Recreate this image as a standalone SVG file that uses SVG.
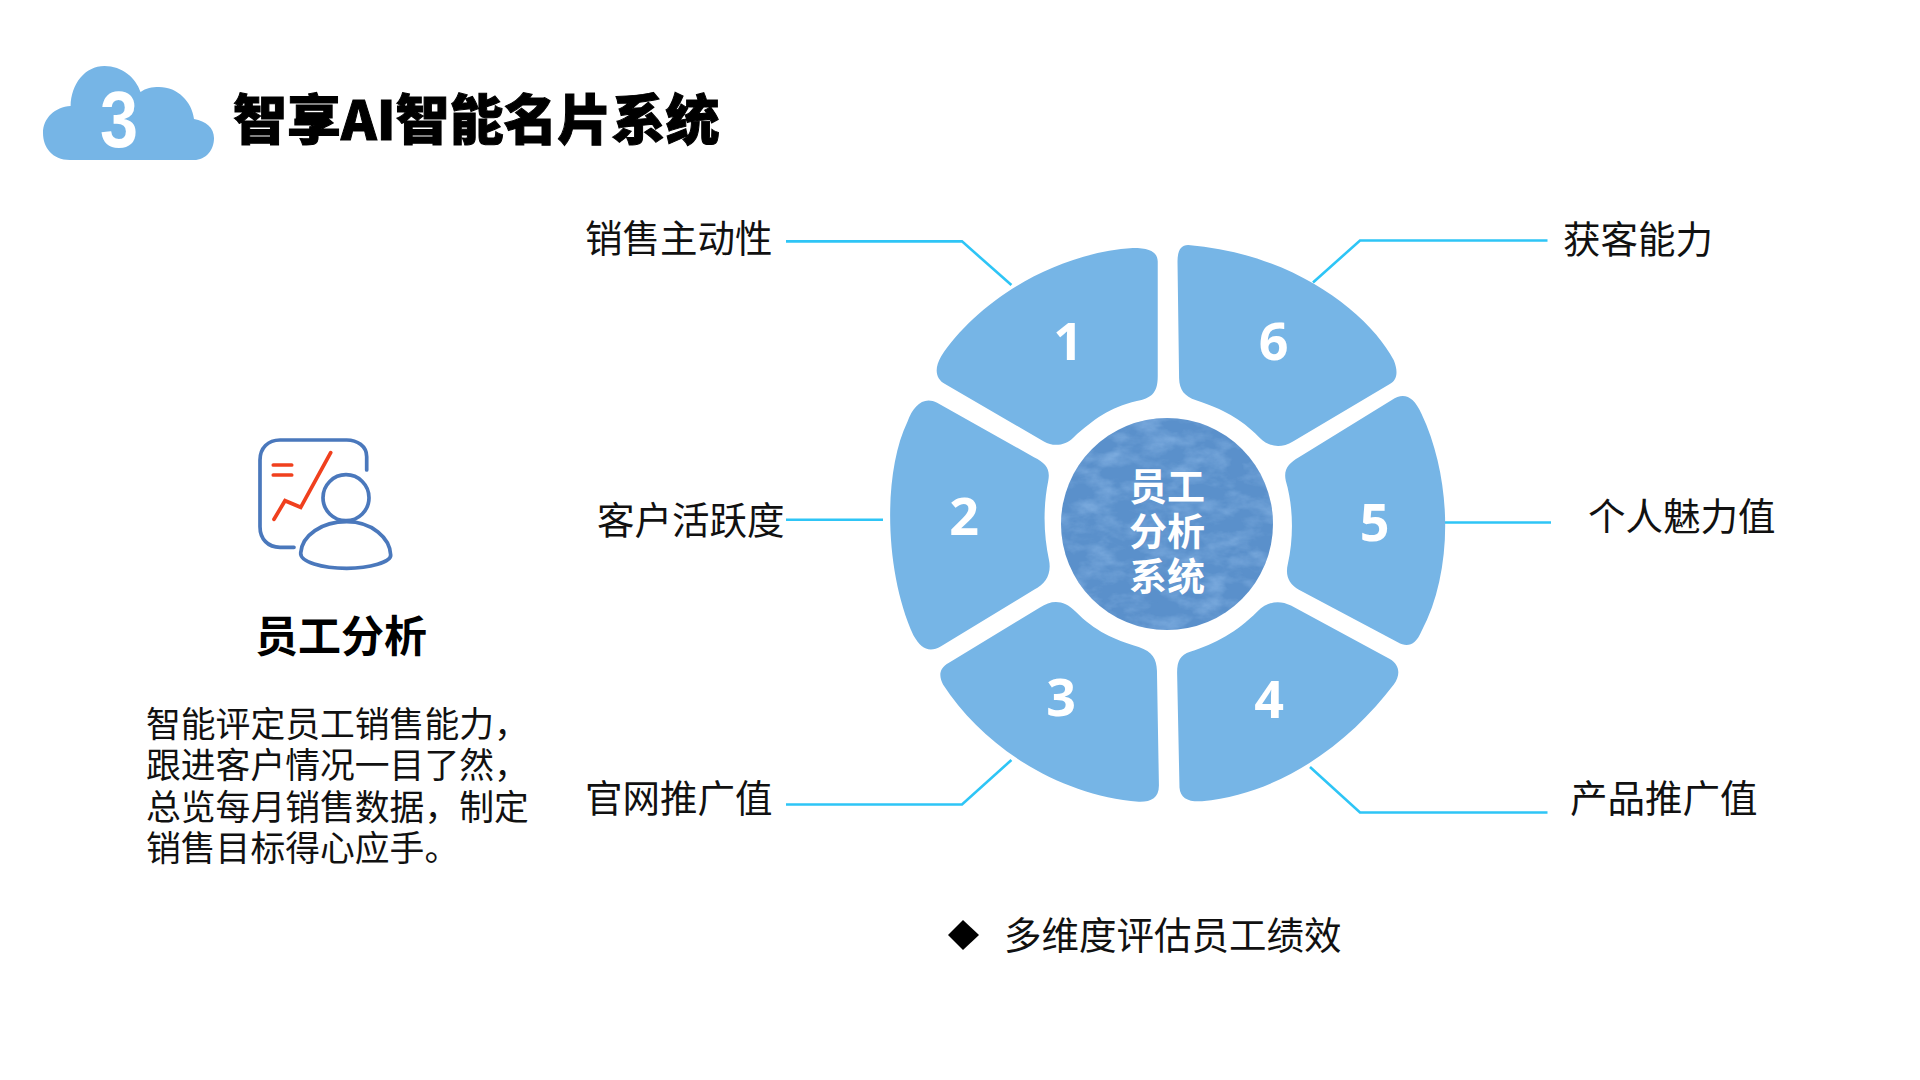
<svg xmlns="http://www.w3.org/2000/svg" width="1920" height="1080" viewBox="0 0 1920 1080">
<style>
text{font-family:"Noto Sans CJK SC","Noto Sans",sans-serif;fill:#111}
.lab{font-size:37.5px}
.para{font-size:34.8px}
.num{font-family:"Open Sans","Noto Sans",sans-serif;font-weight:700;font-size:52px;fill:#fff;text-anchor:middle}
.ctr{font-size:38px;font-weight:700;fill:#fff;text-anchor:middle}
.seg{fill:#76B5E6}
.conn{fill:none;stroke:#2EC5F6;stroke-width:2.6}
.ib{fill:none;stroke:#4A78BC;stroke-width:3.7;stroke-linecap:round}
.ir{fill:none;stroke:#F0401E;stroke-width:3.7;stroke-linecap:round;stroke-linejoin:miter}
</style>
<defs>
<filter id="marble" x="0" y="0" width="100%" height="100%" color-interpolation-filters="sRGB">
<feTurbulence type="fractalNoise" baseFrequency="0.035 0.06" numOctaves="4" seed="7" result="n"/>
<feColorMatrix in="n" type="matrix" values="0 0 0 0 0.62  0 0 0 0 0.78  0 0 0 0 0.95  0.7 -0.7 0 0 0.1" result="c"/>
<feComposite in="c" in2="SourceAlpha" operator="in" result="t"/>
<feMerge><feMergeNode in="SourceGraphic"/><feMergeNode in="t"/></feMerge>
</filter>
</defs>
<rect width="1920" height="1080" fill="#fff"/>

<g id="header">
<path d="M70 160C52 160 43 147 43 133C43 118 55 107 70.6 106C71 84 85 66 104.5 66C122 66 136 78 140.5 92C146 88 152 87 159 87C178 87 192 102 194 119C206 121 214 128 214 138C214 150 206 160 194 160Z" fill="#76B5E6"/>
<text x="100" y="147" font-size="79" font-weight="700" style="font-family:'Liberation Sans',sans-serif;fill:#fff" textLength="38" lengthAdjust="spacingAndGlyphs">3</text>
<text x="233" y="140" font-size="54" font-weight="900" style="fill:#000;stroke:#000;stroke-width:1">智享AI智能名片系统</text>
</g>

<g id="analysis">
<path class="ib" d="M366.7 470V456.7C366.7 446 357 440 346.7 440H280C268 440 260 448 260 460V526.7C260 539 268 547.3 280 547.3H294"/>
<circle class="ib" cx="346" cy="497.7" r="23"/>
<path class="ib" d="M300.7 553C302 535 322 521.7 346.7 521.7C372 521.7 390 538 390.7 555C391 562 370 568.3 346.7 568.3C322 568.3 300 562 300.7 553Z"/>
<path class="ir" d="M273.3 465H291.7M273.3 475H291.7M274 519.3L285 500.7L300.7 507.3L330.7 452.7"/>
<text x="341" y="652" font-size="43" font-weight="700" text-anchor="middle" style="fill:#000">员工分析</text>
<text class="para" x="146" y="737">智能评定员工销售能力，</text>
<text class="para" x="146" y="778">跟进客户情况一目了然，</text>
<text class="para" x="146" y="820">总览每月销售数据，制定</text>
<text class="para" x="146" y="861">销售目标得心应手。</text>
</g>

<g id="connectors">
<path class="conn" d="M786 241.4H962L1011.4 285"/>
<path class="conn" d="M786 519.7H883"/>
<path class="conn" d="M786 804.5H962L1011.4 760"/>
<path class="conn" d="M1547.5 240.5H1360L1313 282.5"/>
<path class="conn" d="M1551 522.5H1443"/>
<path class="conn" d="M1547.5 812.5H1360L1310 767"/>
</g>

<g transform="translate(860 220) scale(.3954)">
<g id="segment-1"><path class="seg" d="M690 71C735 71 752 82 753 105L753 395C753 440 735 450 700 458C630 475 590 505 540 550C520 570 490 575 465 560L215 415C190 400 188 375 205 345C290 215 480 85 690 71Z"/></g>
<g id="segment-2"><path class="seg" d="M195 462L440 600C470 615 482 630 476 660C462 730 465 800 478 860C485 895 470 920 440 935L205 1078C175 1095 155 1085 135 1050C62 890 57 640 120 510C135 470 160 445 195 462Z"/></g>
<g id="segment-3"><path class="seg" d="M225 1120L455 980C485 960 515 960 545 990C595 1040 640 1060 705 1080C740 1092 750 1110 751 1140L756 1430C756 1462 735 1472 705 1471C500 1455 310 1330 210 1175C200 1155 198 1135 225 1120Z"/></g>
<g id="segment-4"><path class="seg" d="M835 1092C810 1100 802 1115 802 1145L808 1435C810 1462 830 1472 865 1470C1070 1450 1240 1320 1350 1175C1368 1150 1365 1125 1340 1110L1090 975C1060 960 1030 965 1005 990C950 1045 900 1070 835 1092Z"/></g>
<g id="segment-5"><path class="seg" d="M1110 600L1345 455C1375 435 1400 445 1420 490C1500 660 1500 890 1420 1040C1405 1075 1385 1082 1360 1068L1110 935C1085 920 1075 900 1082 870C1098 800 1095 720 1077 660C1070 630 1085 615 1110 600Z"/></g>
<g id="segment-6"><path class="seg" d="M830 63C810 63 803 80 803 105L807 400C808 430 820 445 850 456C920 480 960 500 1010 550C1035 575 1065 578 1095 560L1340 415C1358 405 1362 385 1350 355C1290 240 1100 85 830 63Z"/></g>
</g>

<text class="num" x="1068" y="360">1</text>
<text class="num" x="964" y="535">2</text>
<text class="num" x="1061" y="716">3</text>
<text class="num" x="1269" y="718">4</text>
<text class="num" x="1374.5" y="541">5</text>
<text class="num" x="1273.5" y="360">6</text>

<g id="center">
<circle cx="1167" cy="524" r="106" fill="#5A90CB" filter="url(#marble)"/>
<text class="ctr" x="1167" y="500">员工</text>
<text class="ctr" x="1167" y="545">分析</text>
<text class="ctr" x="1167" y="590">系统</text>
</g>

<g id="labels">
<text class="lab" x="585" y="252">销售主动性</text>
<text class="lab" x="597" y="534">客户活跃度</text>
<text class="lab" x="585" y="812">官网推广值</text>
<text class="lab" x="1563" y="253">获客能力</text>
<text class="lab" x="1588" y="530">个人魅力值</text>
<text class="lab" x="1570" y="812">产品推广值</text>
</g>

<g id="note">
<polygon points="963,920 979,935 963,950 948,935" fill="#000"/>
<text class="lab" x="1004" y="949">多维度评估员工绩效</text>
</g>
</svg>
